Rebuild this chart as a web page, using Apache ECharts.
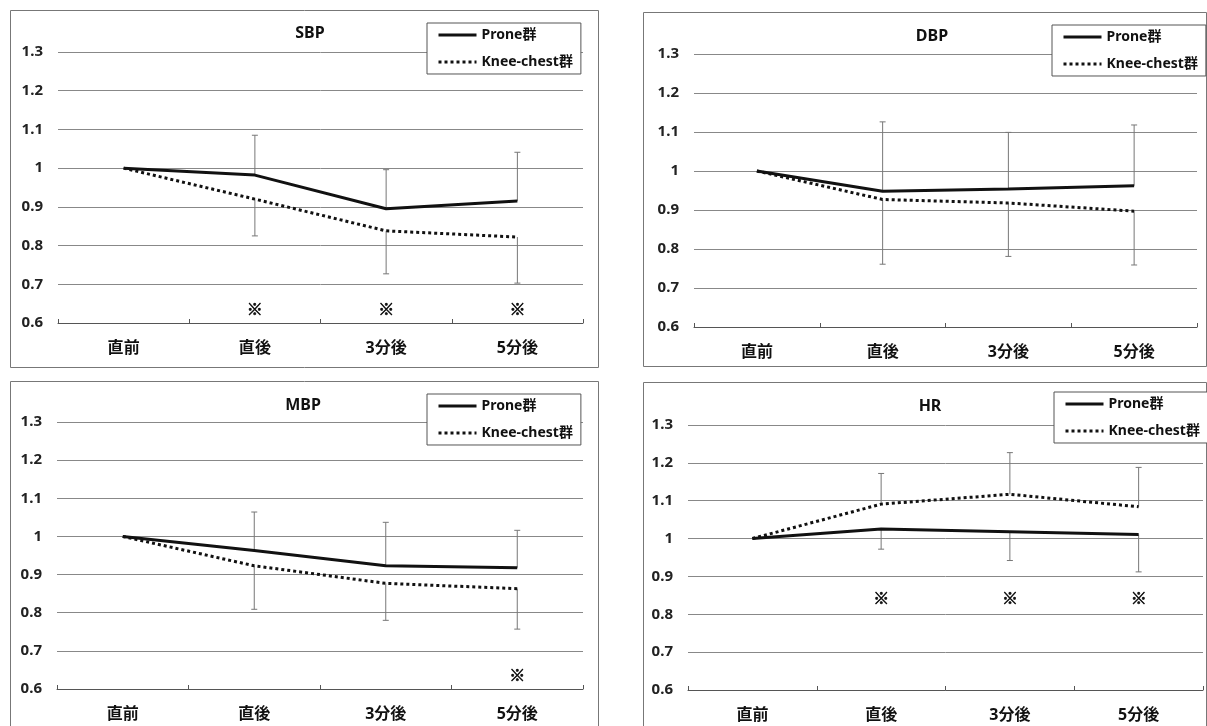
<!DOCTYPE html>
<html lang="ja">
  <head>
    <meta charset="UTF-8" />
    <script src="https://cdn.jsdelivr.net/npm/echarts@6/dist/echarts.min.js"></script>
    <title>SBP / DBP / MBP / HR</title>
    <style>
      html, body { margin: 0; padding: 0; background: #fff; }
      #app { width: 1207px; height: 726px; }
    </style>
  </head>
  <body>
    <div id="app"></div>
    <script>
      // 横軸カテゴリ
      const categories = ["直前", "直後", "3分後", "5分後"];

      // SBP
      const sbpProne = [1, 0.982, 0.895, 0.915];
      const sbpKnee = [1, 0.92, 0.838, 0.822];
      const sbpProneSD = [0, 0.103, 0.101, 0.126];
      const sbpKneeSD = [0, 0.095, 0.111, 0.119];
      const sbpSig = ["", "※", "※", "※"];

      // DBP
      const dbpProne = [1, 0.948, 0.954, 0.962];
      const dbpKnee = [1, 0.927, 0.918, 0.897];
      const dbpProneSD = [0, 0.178, 0.145, 0.156];
      const dbpKneeSD = [0, 0.166, 0.137, 0.138];
      const dbpSig = ["", "", "", ""];

      // MBP
      const mbpProne = [1, 0.963, 0.923, 0.918];
      const mbpKnee = [1, 0.923, 0.877, 0.863];
      const mbpProneSD = [0, 0.101, 0.114, 0.098];
      const mbpKneeSD = [0, 0.114, 0.097, 0.106];
      const mbpSig = ["", "", "", "※"];

      // HR
      const hrProne = [1, 1.025, 1.018, 1.011];
      const hrKnee = [1, 1.091, 1.117, 1.084];
      const hrProneSD = [0, 0.053, 0.076, 0.099];
      const hrKneeSD = [0, 0.081, 0.11, 0.104];
      const hrSig = ["", "※", "※", "※"];

      const FONT = "Noto Sans, Noto Sans CJK JP, sans-serif";
      const NAME_P = "Prone群";
      const NAME_K = "Knee-chest群";

      // upOn: どちらの群の誤差棒を上向きに描くか
      const panels = [
        { title: "SBP", prone: sbpProne, knee: sbpKnee, pSD: sbpProneSD, kSD: sbpKneeSD, upOn: "prone",
          sig: sbpSig, sigY: 0.636,
          grid: { left: 58, top: 52, width: 525, height: 271 },
          box: [10, 10, 588, 357], legend: [427, 23], titlePos: [310, 33] },
        { title: "DBP", prone: dbpProne, knee: dbpKnee, pSD: dbpProneSD, kSD: dbpKneeSD, upOn: "prone",
          sig: dbpSig, sigY: 0.636,
          grid: { left: 694, top: 54, width: 503, height: 273 },
          box: [643, 12, 563, 354], legend: [1052, 25], titlePos: [932, 36] },
        { title: "MBP", prone: mbpProne, knee: mbpKnee, pSD: mbpProneSD, kSD: mbpKneeSD, upOn: "prone",
          sig: mbpSig, sigY: 0.637,
          grid: { left: 57, top: 422, width: 526, height: 267 },
          box: [10, 381, 588, 360], legend: [427, 394], titlePos: [303, 405] },
        { title: "HR", prone: hrProne, knee: hrKnee, pSD: hrProneSD, kSD: hrKneeSD, upOn: "knee",
          sig: hrSig, sigY: 0.844,
          grid: { left: 688, top: 425, width: 515, height: 265 },
          box: [643, 382, 563, 360], legend: [1054, 392], titlePos: [930, 406] },
      ];

      function errRender(params, api) {
        const p0 = api.coord([api.value(0), api.value(1)]);
        const p1 = api.coord([api.value(0), api.value(2)]);
        const style = { stroke: "#777", lineWidth: 1 };
        return {
          type: "group",
          children: [
            { type: "line", shape: { x1: p0[0], y1: p0[1], x2: p1[0], y2: p1[1] }, style },
            { type: "line", shape: { x1: p1[0] - 3, y1: p1[1], x2: p1[0] + 3, y2: p1[1] }, style },
          ],
        };
      }

      function sigRender(params, api) {
        const p = api.coord([api.value(0), api.value(1)]);
        return {
          type: "text",
          x: p[0],
          y: p[1],
          style: {
            text: api.value(2),
            align: "center",
            verticalAlign: "middle",
            font: "900 16px Noto Sans CJK JP",
            fill: "#111",
            stroke: "#111",
            lineWidth: 0.6,
          },
        };
      }

      const grid = [], xAxis = [], yAxis = [], series = [], legend = [], graphic = [];

      panels.forEach((p, i) => {
        grid.push(p.grid);
        xAxis.push({
          type: "category",
          gridIndex: i,
          data: categories,
          boundaryGap: true,
          axisLine: { lineStyle: { color: "#555", width: 1 } },
          axisTick: { show: true, inside: true, length: 4, lineStyle: { color: "#555" } },
          axisLabel: { margin: 17, color: "#111", fontWeight: "bold", fontSize: 16, fontFamily: FONT },
        });
        yAxis.push({
          type: "value",
          gridIndex: i,
          min: 0.6,
          max: 1.3,
          interval: 0.1,
          axisLine: { show: false },
          axisTick: { show: false },
          splitLine: { lineStyle: { color: "#888", width: 1 } },
          axisLabel: {
            margin: 15,
            color: "#222",
            fontWeight: "bold",
            fontSize: 15,
            fontFamily: FONT,
            formatter: (v) => String(Math.round(v * 10) / 10),
          },
        });

        const upArr = p.upOn === "prone" ? p.prone : p.knee;
        const upSD = p.upOn === "prone" ? p.pSD : p.kSD;
        const dnArr = p.upOn === "prone" ? p.knee : p.prone;
        const dnSD = p.upOn === "prone" ? p.kSD : p.pSD;
        const errData = [];
        categories.forEach((c, k) => {
          if (upSD[k] > 0) errData.push([k, upArr[k], upArr[k] + upSD[k]]);
          if (dnSD[k] > 0) errData.push([k, dnArr[k], dnArr[k] - dnSD[k]]);
        });

        series.push({
          type: "custom",
          xAxisIndex: i,
          yAxisIndex: i,
          renderItem: errRender,
          encode: { x: 0, y: [1, 2] },
          data: errData,
          z: 2,
          silent: true,
        });
        series.push({
          name: NAME_P,
          type: "line",
          xAxisIndex: i,
          yAxisIndex: i,
          data: p.prone,
          symbol: "none",
          lineStyle: { color: "#111", width: 3 },
          itemStyle: { color: "#111" },
          z: 4,
        });
        series.push({
          name: NAME_K,
          type: "line",
          xAxisIndex: i,
          yAxisIndex: i,
          data: p.knee,
          symbol: "none",
          lineStyle: { color: "#111", width: 3, type: "dotted" },
          itemStyle: { color: "#111" },
          z: 3,
        });
        series.push({
          type: "custom",
          xAxisIndex: i,
          yAxisIndex: i,
          renderItem: sigRender,
          encode: { x: 0, y: 1 },
          data: p.sig.map((s, k) => [k, p.sigY, s]).filter((d) => d[2] !== ""),
          z: 5,
          silent: true,
        });

        legend.push({
          data: [NAME_P, NAME_K],
          orient: "vertical",
          left: p.legend[0],
          top: p.legend[1],
          padding: [5, 8, 5, 10],
          itemGap: 13,
          itemWidth: 38,
          itemHeight: 14,
          itemStyle: { opacity: 0 },
          lineStyle: { width: 3 },
          backgroundColor: "#fff",
          borderColor: "#555",
          borderWidth: 1,
          selectedMode: false,
          textStyle: { color: "#111", fontWeight: "bold", fontSize: 14, fontFamily: FONT },
          z: 10,
        });

        graphic.push({
          type: "rect",
          shape: { x: p.box[0] + 0.5, y: p.box[1] + 0.5, width: p.box[2], height: p.box[3] },
          style: { fill: "none", stroke: "#777", lineWidth: 1 },
          silent: true,
        });
        graphic.push({
          type: "text",
          x: p.titlePos[0],
          y: p.titlePos[1],
          style: {
            text: p.title,
            align: "center",
            verticalAlign: "middle",
            font: "bold 16px " + FONT,
            fill: "#111",
          },
          silent: true,
        });
      });

      const chart = echarts.init(document.getElementById("app"));
      chart.setOption({
        animation: false,
        backgroundColor: "#fff",
        grid,
        xAxis,
        yAxis,
        legend,
        series,
        graphic,
      });
    </script>
  </body>
</html>
